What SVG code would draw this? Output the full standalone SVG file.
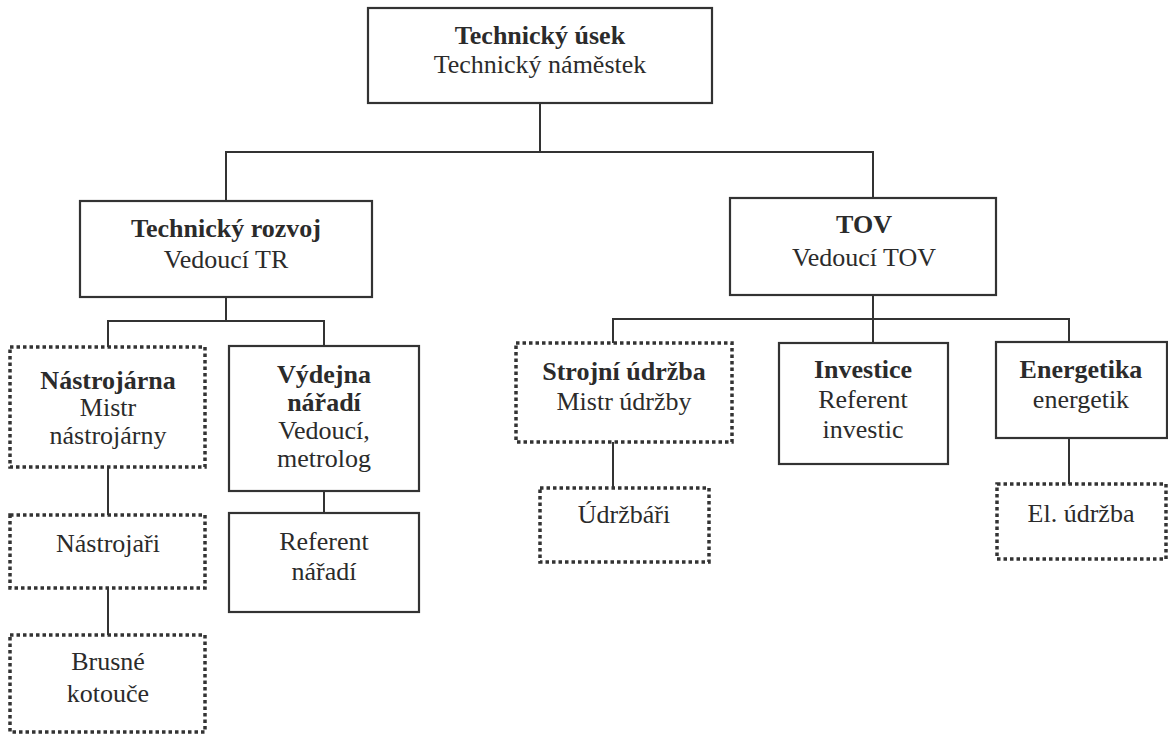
<svg xmlns="http://www.w3.org/2000/svg" width="1168" height="734" viewBox="0 0 1168 734">
  <style>
    .box { fill: #ffffff; stroke: #333333; stroke-width: 2.2; }
    .dot { fill: #ffffff; stroke: #333333; stroke-width: 3.5; stroke-dasharray: 3.5 3; }
    .link { fill: none; stroke: #333333; stroke-width: 2; }
    .t { font-family: 'Liberation Serif', 'DejaVu Serif', serif; font-size: 26px; fill: #2b2b2b; text-anchor: middle; }
    .b { font-weight: bold; }
  </style>
  <rect width="1168" height="734" fill="#ffffff"/>

  <!-- connectors -->
  <g id="connectors">
    <path class="link" d="M540 103 V152 M226 201 V152 H873 V198"/>
    <path class="link" d="M226 297 V321 M108 347 V321 H324 V346"/>
    <path class="link" d="M108 467 V515 M108 588 V635 M324 491 V513"/>
    <path class="link" d="M873 295 V319 M613 343 V319 H1069 V342 M873 319 V343"/>
    <path class="link" d="M613 442 V488 M1069 438 V484"/>
  </g>

  <g class="t">
    <!-- top level -->
    <g id="technicky-usek">
      <rect class="box" x="368" y="8" width="344" height="95"/>
      <text x="540" y="44" class="b">Technický úsek</text>
      <text x="540" y="73">Technický náměstek</text>
    </g>

    <!-- second level -->
    <g id="technicky-rozvoj">
      <rect class="box" x="80" y="201" width="292" height="96"/>
      <text x="226" y="237" class="b">Technický rozvoj</text>
      <text x="226" y="268">Vedoucí TR</text>
    </g>
    <g id="tov">
      <rect class="box" x="730" y="198" width="266" height="97"/>
      <text x="864" y="233" class="b">TOV</text>
      <text x="864" y="266">Vedoucí TOV</text>
    </g>

    <!-- under Technický rozvoj -->
    <g id="nastrojarna">
      <rect class="dot" x="10" y="347" width="195" height="120"/>
      <text x="108" y="389" class="b">Nástrojárna</text>
      <text x="108" y="416">Mistr</text>
      <text x="108" y="444">nástrojárny</text>
    </g>
    <g id="vydejna-naradi">
      <rect class="box" x="229" y="346" width="190" height="145"/>
      <text x="324" y="383" class="b">Výdejna</text>
      <text x="324" y="411" class="b">nářadí</text>
      <text x="324" y="439">Vedoucí,</text>
      <text x="324" y="467">metrolog</text>
    </g>
    <g id="nastrojari">
      <rect class="dot" x="10" y="515" width="195" height="73"/>
      <text x="108" y="552">Nástrojaři</text>
    </g>
    <g id="brusne-kotouce">
      <rect class="dot" x="10" y="635" width="195" height="97"/>
      <text x="108" y="670">Brusné</text>
      <text x="108" y="702">kotouče</text>
    </g>
    <g id="referent-naradi">
      <rect class="box" x="229" y="513" width="190" height="99"/>
      <text x="324" y="550">Referent</text>
      <text x="324" y="580">nářadí</text>
    </g>

    <!-- under TOV -->
    <g id="strojni-udrzba">
      <rect class="dot" x="516" y="343" width="216" height="99"/>
      <text x="624" y="380" class="b">Strojní údržba</text>
      <text x="624" y="410">Mistr údržby</text>
    </g>
    <g id="udrzbari">
      <rect class="dot" x="540" y="488" width="169" height="74"/>
      <text x="624" y="523">Údržbáři</text>
    </g>
    <g id="investice">
      <rect class="box" x="779" y="343" width="169" height="121"/>
      <text x="863" y="378" class="b">Investice</text>
      <text x="863" y="408">Referent</text>
      <text x="863" y="438">investic</text>
    </g>
    <g id="energetika">
      <rect class="box" x="996" y="342" width="171" height="96"/>
      <text x="1081" y="378" class="b">Energetika</text>
      <text x="1081" y="408">energetik</text>
    </g>
    <g id="el-udrzba">
      <rect class="dot" x="997" y="484" width="169" height="75"/>
      <text x="1081" y="522">El. údržba</text>
    </g>
  </g>
</svg>
